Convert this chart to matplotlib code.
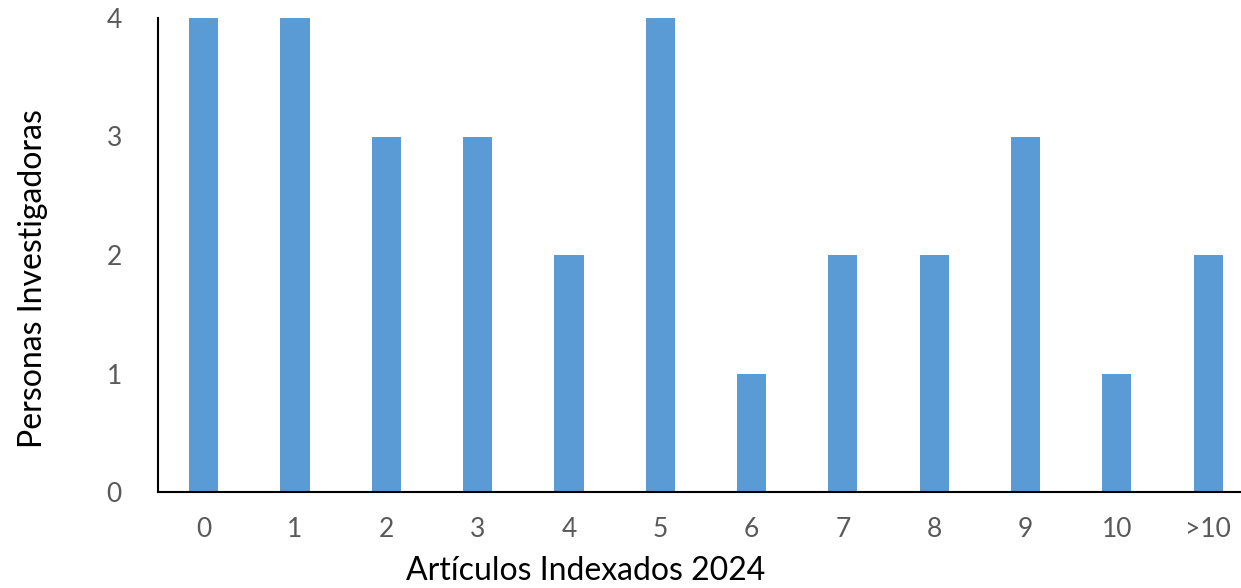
import matplotlib.pyplot as plt
import numpy as np

plt.rcParams['font.family'] = ['Lato', 'DejaVu Sans']

categorias = ['0', '1', '2', '3', '4', '5', '6', '7', '8', '9', '10', '>10']
personas = [4, 4, 3, 3, 2, 4, 1, 2, 2, 3, 1, 2]

fig = plt.figure(figsize=(12.41, 5.88), dpi=100)
ax = fig.add_axes([158 / 1241, 1 - 492 / 588, 1 - 158 / 1241, (492 - 18) / 588])

x = np.arange(len(categorias))
ax.bar(x, personas, width=0.32, color='#5B9BD5', zorder=2)

ax.set_xlim(-0.5, 11.36)
ax.set_ylim(0, 4)
ax.set_xticks(x)
ax.set_xticklabels(categorias)
ax.set_yticks([0, 1, 2, 3, 4])
ax.tick_params(axis='both', length=0, labelsize=19, labelcolor='#595959')
ax.tick_params(axis='x', pad=18)
ax.tick_params(axis='y', pad=26)

for s in ['top', 'right']:
    ax.spines[s].set_visible(False)
ax.spines['left'].set_linewidth(1.5)
ax.spines['bottom'].set_linewidth(1.5)

ax.set_xlabel('Artículos Indexados 2024', fontsize=23)
ax.set_ylabel('Personas Investigadoras', fontsize=23)
ax.xaxis.set_label_coords(0.395, -0.135)
ax.yaxis.set_label_coords(-0.102, 0.451)

fig.savefig('out.png', dpi=100)
